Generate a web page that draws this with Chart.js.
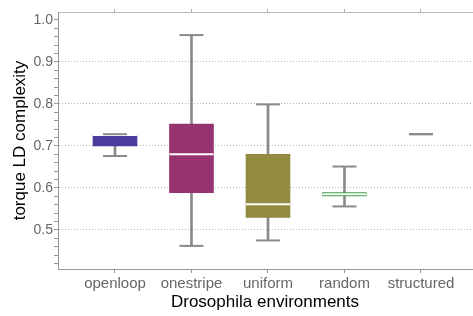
<!DOCTYPE html>
<html>
<head>
    <title>torque LD complexity</title>
    <script src="https://cdn.jsdelivr.net/npm/chart.js"></script>
    <style>
        body { margin: 0; background: #fff; }
        #wrap { width: 473px; height: 316px; }
    </style>
</head>
<body>
    <div id="wrap">
        <canvas id="boxChart"></canvas>
    </div>

    <script>
        // values
        const categories = ['openloop', 'onestripe', 'uniform', 'random', 'structured'];
        const minVals = [0.676, 0.462, 0.475, 0.556, 0.728];
        const q1Vals  = [0.700, 0.589, 0.530, 0.581, 0.728];
        const medVals = [0.726, 0.680, 0.561, 0.585, 0.728];
        const q3Vals  = [0.725, 0.752, 0.680, 0.589, 0.728];
        const maxVals = [0.728, 0.964, 0.799, 0.651, 0.728];
        // structured has a single value, so its box collapses to the cap line
        const boxColors = ['#4a3b9c', '#973470', '#928a3e', '#3f9e47', 'rgba(0,0,0,0)'];

        const xs = categories.map((c, i) => i + 1);
        const font = 'Liberation Sans, Arial, Helvetica, sans-serif';
        const gray = '#8a8a8a';

        const catTicks = scale => { scale.ticks = xs.map(v => ({ value: v })); };
        // keep the plot area where the reference has it
        const noPad = s => { s.paddingTop = 0; s.paddingBottom = 0; s.paddingLeft = 0; s.paddingRight = 0; };

        const ctx = document.getElementById('boxChart').getContext('2d');
        new Chart(ctx, {
            type: 'bar',
            data: {
                datasets: [
                    {
                        // whiskers, min to max
                        data: xs.map((x, i) => ({ x: x, y: [minVals[i], maxVals[i]] })),
                        backgroundColor: gray,
                        barThickness: 2,
                        grouped: false,
                        order: 4
                    },
                    {
                        // boxes, q1 to q3
                        data: xs.map((x, i) => ({ x: x, y: [q1Vals[i], q3Vals[i]] })),
                        backgroundColor: boxColors,
                        borderWidth: 0,
                        barThickness: 44,
                        grouped: false,
                        order: 3
                    },
                    {
                        // medians
                        type: 'scatter',
                        data: xs.map((x, i) => ({ x: x, y: medVals[i] })),
                        pointStyle: 'line',
                        pointRadius: 22,
                        pointHoverRadius: 22,
                        pointBorderColor: '#ffffff',
                        pointBorderWidth: 2,
                        order: 2
                    },
                    {
                        // whisker caps
                        type: 'scatter',
                        data: xs.flatMap((x, i) => [{ x: x, y: minVals[i] }, { x: x, y: maxVals[i] }]),
                        pointStyle: 'line',
                        pointRadius: 12,
                        pointHoverRadius: 12,
                        pointBorderColor: gray,
                        pointBorderWidth: 2,
                        order: 1
                    }
                ]
            },
            options: {
                responsive: true,
                maintainAspectRatio: false,
                animation: false,
                layout: { autoPadding: false, padding: { top: 0, right: 1, bottom: 0, left: 0 } },
                plugins: {
                    legend: { display: false },
                    tooltip: { enabled: false }
                },
                scales: {
                    x: {
                        type: 'linear',
                        position: 'bottom',
                        offset: false,
                        min: 0.255,
                        max: 5.667,
                        afterBuildTicks: catTicks,
                        afterFit: s => { noPad(s); s.height = 47; },
                        grid: { offset: false, drawOnChartArea: false, tickLength: 4, tickColor: '#999' },
                        border: { color: '#999' },
                        ticks: {
                            autoSkip: false,
                            maxRotation: 0,
                            padding: 2,
                            color: '#666',
                            font: { family: font, size: 15 },
                            callback: v => categories[v - 1] || ''
                        },
                        title: {
                            display: true,
                            text: 'Drosophila environments',
                            color: '#000',
                            padding: { top: 0, bottom: 3 },
                            font: { family: font, size: 17 }
                        }
                    },
                    x2: {
                        type: 'linear',
                        position: 'top',
                        offset: false,
                        min: 0.255,
                        max: 5.667,
                        afterBuildTicks: catTicks,
                        afterFit: s => { noPad(s); s.height = 12; },
                        grid: { offset: false, drawOnChartArea: false, tickLength: 3, tickColor: '#aaa' },
                        border: { color: '#bbb' },
                        ticks: { display: false }
                    },
                    y: {
                        min: 0.407,
                        max: 1.019,
                        afterFit: s => { noPad(s); s.width = 58; },
                        grid: {
                            color: c => {
                                const v = c.tick ? c.tick.value : 0;
                                const major = Math.abs(v * 10 - Math.round(v * 10)) < 1e-6;
                                return (major && v > 0.45 && v < 0.95) ? '#b5b5b5' : 'rgba(0,0,0,0)';
                            },
                            tickLength: 4,
                            tickColor: '#999',
                            lineWidth: 1
                        },
                        border: { color: '#999', dash: [1, 2] },
                        ticks: {
                            stepSize: 0.02,
                            includeBounds: false,
                            autoSkip: false,
                            padding: 1,
                            color: '#666',
                            font: { family: font, size: 14 },
                            callback: v => Math.abs(v * 10 - Math.round(v * 10)) < 1e-6 ? v.toFixed(1) : ''
                        },
                        title: {
                            display: true,
                            text: 'torque LD complexity',
                            color: '#000',
                            padding: { top: 10, bottom: 0 },
                            font: { family: font, size: 17 }
                        }
                    }
                }
            }
        });
    </script>
</body>
</html>
